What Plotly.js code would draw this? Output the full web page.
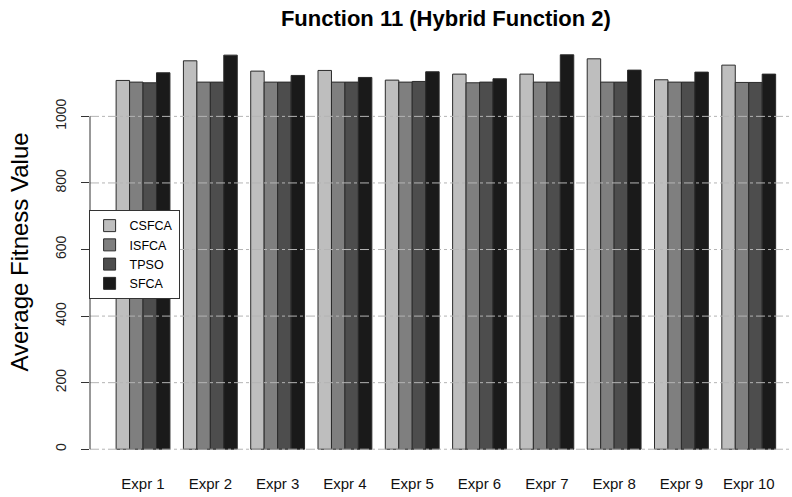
<!DOCTYPE html>
<html>
<head>
<meta charset="utf-8">
<script src="https://cdn.plot.ly/plotly-3.0.1.min.js"></script>
<style>html,body{margin:0;padding:0;background:#fff;}#chart{width:792px;height:497px;}</style>
</head>
<body>
<div id="chart"></div>
<script>
const categories = ["Expr 1","Expr 2","Expr 3","Expr 4","Expr 5","Expr 6","Expr 7","Expr 8","Expr 9","Expr 10"];
const seriesNames = ["CSFCA","ISFCA","TPSO","SFCA"];
const CSFCA = [1108, 1167, 1136, 1138, 1109, 1127, 1127, 1173, 1110, 1154];
const ISFCA = [1103, 1103, 1103, 1103, 1103, 1101, 1103, 1103, 1103, 1102];
const TPSO  = [1101, 1103, 1103, 1103, 1105, 1103, 1103, 1103, 1103, 1102];
const SFCA  = [1131, 1184, 1123, 1117, 1134, 1113, 1185, 1139, 1133, 1127];
const yTicks = [0, 200, 400, 600, 800, 1000];
const yTickText = ["0","200","400","600","800","1000"];

const seriesValues = [CSFCA, ISFCA, TPSO, SFCA];
const colors = ["#bebebe", "#7f7f7f", "#4d4d4d", "#1a1a1a"];

const traces = seriesNames.map((name, i) => ({
  type: "bar",
  name: name,
  x: categories,
  y: seriesValues[i],
  marker: {color: colors[i], line: {color: "#2b2b2b", width: 1}},
  hoverinfo: "x+y+name"
}));

const shapes = yTicks.map(v => ({
  type: "line", xref: "paper", yref: "y",
  x0: 0, x1: 1, y0: v, y1: v,
  line: {color: "#b4b4b4", width: 1, dash: "dashdot"},
  layer: "above"
}));
shapes.push({
  type: "line", xref: "paper", yref: "y",
  x0: 0, x1: 0, y0: yTicks[0], y1: yTicks[yTicks.length - 1],
  line: {color: "#333333", width: 1},
  layer: "above"
});

const layout = {
  width: 792, height: 497,
  margin: {l: 90, r: 0, t: 39, b: 32, pad: 0},
  paper_bgcolor: "#ffffff", plot_bgcolor: "#ffffff",
  font: {family: "Liberation Sans, Arial, sans-serif", color: "#000"},
  title: {
    text: "<b>Function 11 (Hybrid Function 2)</b>",
    font: {size: 22, family: "Liberation Sans, Arial, sans-serif", color: "#000"},
    xref: "paper", x: 0.507, xanchor: "center",
    yref: "container", y: 0.964, yanchor: "middle"
  },
  barmode: "group",
  bargap: 0.2,
  bargroupgap: 0,
  xaxis: {
    type: "category",
    range: [-0.788, 9.643],
    showline: false, showgrid: false, zeroline: false,
    ticks: "", ticklabelstandoff: 8,
    tickfont: {size: 15, color: "#111"}
  },
  yaxis: {
    range: [-47.4, 1232.5],
    showline: false, showgrid: false, zeroline: false,
    tickvals: yTicks, ticktext: yTickText,
    ticks: "outside", ticklen: 8, tickcolor: "#333", tickwidth: 1,
    tickangle: -90,
    ticklabelstandoff: 9,
    tickfont: {size: 14, color: "#222"},
    title: {text: "Average Fitness Value", font: {size: 24, color: "#000"}, standoff: 18}
  },
  showlegend: true,
  legend: {
    x: -0.002, xanchor: "left", y: 0.5986, yanchor: "top",
    bgcolor: "#ffffff", bordercolor: "#333333", borderwidth: 1,
    font: {size: 12.5, color: "#000"},
    traceorder: "normal"
  },
  shapes: shapes
};

Plotly.newPlot("chart", traces, layout, {displayModeBar: false, staticPlot: true});
</script>
</body>
</html>
